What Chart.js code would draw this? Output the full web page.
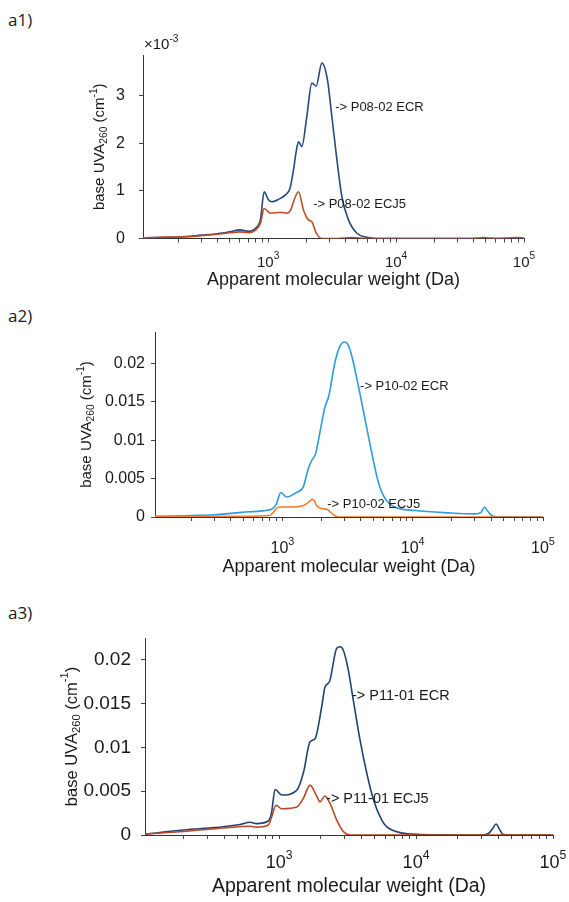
<!DOCTYPE html>
<html>
<head>
<meta charset="utf-8">
<script src="https://cdn.jsdelivr.net/npm/chart.js@4.4.1/dist/chart.umd.min.js"></script>
<style>
  body { margin: 0; background: #fff; width: 569px; height: 902px; position: relative; overflow: hidden; }
  canvas.panel { position: absolute; left: 0; }
  .tag { position: absolute; left: 8px; font: 17px "Open Sans", sans-serif; color: #1a1a1a; }
</style>
</head>
<body>
<div class="tag" style="top:8px">a1)</div>
<div class="tag" style="top:304px">a2)</div>
<div class="tag" style="top:601px">a3)</div>
<canvas id="c1" class="panel" width="569" height="300" style="top:0"></canvas>
<canvas id="c2" class="panel" width="569" height="300" style="top:300px"></canvas>
<canvas id="c3" class="panel" width="569" height="302" style="top:600px"></canvas>
<script>
// molecular weight (Da) / base UVA260 (cm-1) traces, one pair per sample
const mwP08Ecr  = [105, 150, 200, 300, 400, 500, 600, 700, 800, 870, 930, 1000, 1069, 1200, 1358, 1480, 1577, 1650, 1725, 1833, 2005, 2194, 2371, 2627, 2907, 3146, 3447, 3766, 4242, 4940, 5900, 7000, 20000, 100000];
const uvaP08Ecr = [0.00000, 0.00002, 0.00003, 0.00007, 0.00010, 0.00014, 0.00018, 0.00015, 0.00022, 0.00040, 0.00098, 0.00082, 0.00077, 0.00082, 0.00091, 0.00105, 0.00144, 0.00180, 0.00203, 0.00193, 0.00256, 0.00326, 0.00320, 0.00368, 0.00333, 0.00256, 0.00165, 0.00088, 0.00039, 0.00011, 0.000025, 0, 0, 0];
const mwP08Ecj5  = [105, 150, 200, 300, 400, 500, 600, 700, 800, 870, 930, 1036, 1240, 1400, 1500, 1577, 1725, 1887, 2063, 2194, 2371, 2627, 3500, 4500, 6000, 40000, 48000, 60000, 90000, 100000];
const uvaP08Ecj5 = [0.00001, 0.00003, 0.00003, 0.00006, 0.00009, 0.00012, 0.00014, 0.00012, 0.00018, 0.00032, 0.00063, 0.00053, 0.00055, 0.00053, 0.00060, 0.00077, 0.00098, 0.00060, 0.00039, 0.00035, 0.00012, 0, 0, 0.00002, 0, 0, 0.00002, 0, 0.00002, 0.00001];

const mwP10Ecr  = [105, 200, 300, 484, 700, 823, 899, 970, 1076, 1281, 1443, 1578, 1693, 1793, 1936, 2115, 2270, 2524, 2750, 2983, 3200, 3400, 3823, 4300, 4840, 5449, 6138, 7320, 10400, 18800, 30200, 33500, 35500, 37500, 40400, 45000, 100000];
const uvaP10Ecr = [0.00005, 0.0002, 0.0003, 0.0006, 0.0008, 0.0010, 0.0017, 0.0032, 0.0026, 0.0032, 0.0039, 0.0063, 0.0075, 0.0082, 0.0110, 0.01426, 0.0158, 0.0201, 0.0222, 0.0228, 0.0224, 0.0210, 0.0171, 0.01275, 0.0084, 0.0045, 0.0024, 0.00127, 0.00084, 0.00054, 0.00041, 0.0006, 0.00127, 0.0008, 0.0002, 0, 0];
const mwP10Ecj5  = [105, 500, 800, 848, 927, 1000, 1200, 1450, 1550, 1625, 1693, 1760, 1826, 1995, 2185, 2460, 2700, 100000];
const uvaP10Ecj5 = [0.0001, 0.0001, 0.0002, 0.0006, 0.00127, 0.0013, 0.0013, 0.0015, 0.0018, 0.0021, 0.0023, 0.0021, 0.0015, 0.0011, 0.0010, 0.0003, 0, 0];

const mwP11Ecr  = [105, 200, 392, 519, 614, 687, 835, 880, 935, 1046, 1346, 1505, 1684, 1831, 2049, 2165, 2332, 2636, 2786, 2946, 3201, 3480, 3900, 4370, 4894, 5620, 6100, 7650, 9500, 20000, 30000, 34000, 36500, 38400, 40500, 43000, 48000, 100000];
const uvaP11Ecr = [0.0001, 0.00057, 0.00095, 0.0012, 0.00145, 0.0013, 0.0016, 0.0025, 0.0052, 0.00457, 0.0051, 0.0071, 0.01066, 0.0110, 0.01466, 0.0169, 0.0175, 0.02134, 0.0215, 0.0211, 0.01886, 0.01543, 0.01086, 0.00705, 0.0040, 0.0017, 0.00095, 0.00027, 0.0001, 0, 0, 0.0002, 0.0008, 0.00126, 0.0007, 0.0001, 0, 0];
const mwP11Ecj5  = [105, 200, 392, 614, 687, 835, 880, 950, 1046, 1346, 1505, 1684, 1886, 1993, 2165, 2355, 2636, 2946, 3300, 100000];
const uvaP11Ecj5 = [0.0001, 0.0004, 0.0008, 0.0010, 0.0009, 0.00114, 0.0020, 0.0034, 0.0030, 0.0032, 0.0042, 0.0057, 0.0044, 0.0038, 0.00446, 0.0036, 0.0017, 0.0004, 0, 0];

const mwRange = [105, 100000];
const decadeTicks = [1000, 10000, 100000];

const pts = (xs, ys) => xs.map((x, i) => ({ x: x, y: ys[i] }));

// draws a run of text pieces, some of them raised or lowered
function richWidth(ctx, parts, size) {
  let w = 0;
  parts.forEach(p => {
    ctx.font = ((p.sup || p.sub) ? size * 0.68 : size) + 'px "Liberation Sans", Arial, sans-serif';
    w += ctx.measureText(p.t).width;
  });
  return w;
}
function drawRich(ctx, parts, x, y, size, align) {
  const w = richWidth(ctx, parts, size);
  let cx = align === 'center' ? x - w / 2 : x;
  ctx.textAlign = 'left';
  ctx.textBaseline = 'middle';
  parts.forEach(p => {
    const small = p.sup || p.sub;
    ctx.font = (small ? size * 0.68 : size) + 'px "Liberation Sans", Arial, sans-serif';
    let dy = 0;
    if (p.sup) dy = -size * 0.42;
    if (p.sub) dy = size * 0.3;
    ctx.fillText(p.t, cx, y + dy);
    cx += ctx.measureText(p.t).width;
  });
}

const yTitle = [{ t: 'base UVA' }, { t: '260', sub: true }, { t: ' (cm' }, { t: '-1', sup: true }, { t: ')' }];

const decor = {
  id: 'decor',
  afterDraw(chart, args, o) {
    const ctx = chart.ctx;
    const a = chart.chartArea;
    const xs = chart.scales.x;
    const ys = chart.scales.y;
    ctx.save();
    ctx.fillStyle = '#1a1a1a';

    decadeTicks.forEach(v => {
      const px = xs.getPixelForValue(v);
      drawRich(ctx, [{ t: '10' }, { t: String(Math.round(Math.log10(v))), sup: true }], px, a.bottom + o.xTickDy, o.xTickSize, 'center');
    });

    ctx.font = o.xTitleSize + 'px "Liberation Sans", Arial, sans-serif';
    ctx.textAlign = 'center';
    ctx.textBaseline = 'middle';
    ctx.fillText('Apparent molecular weight (Da)', (a.left + a.right) / 2, a.bottom + o.xTitleDy);

    ctx.save();
    ctx.translate(a.left - o.yTitleDx, (a.top + a.bottom) / 2);
    ctx.rotate(-Math.PI / 2);
    drawRich(ctx, yTitle, 0, 0, o.yTitleSize, 'center');
    ctx.restore();

    if (o.exponent) {
      drawRich(ctx, [{ t: '\u00d710' }, { t: o.exponent, sup: true }], a.left + 1, a.top - 10, 15, 'left');
    }

    ctx.font = o.noteSize + 'px "Liberation Sans", Arial, sans-serif';
    ctx.textAlign = 'left';
    ctx.textBaseline = 'middle';
    o.notes.forEach(n => {
      ctx.fillText(n.text, xs.getPixelForValue(n.at[0]), ys.getPixelForValue(n.at[1]));
    });
    ctx.restore();
  }
};

function makePanel(id, cfg) {
  const canvas = document.getElementById(id);
  const a = cfg.area;
  return new Chart(canvas, {
    type: 'line',
    data: {
      datasets: cfg.series.map(s => ({
        data: s.data,
        borderColor: s.color,
        borderWidth: 1.6,
        pointRadius: 0,
        fill: false,
        cubicInterpolationMode: 'monotone'
      }))
    },
    options: {
      responsive: false,
      animation: false,
      events: [],
      layout: { padding: { left: 0, right: canvas.width - a.right, top: a.top, bottom: 0 } },
      plugins: { legend: { display: false }, tooltip: { enabled: false }, decor: cfg.decor },
      scales: {
        x: {
          type: 'logarithmic',
          min: mwRange[0],
          max: mwRange[1],
          afterFit: s => { s.height = canvas.height - a.bottom; },
          afterBuildTicks: s => {
            // keep only whole multiples of each decade
            s.ticks = s.ticks.filter(t => {
              const r = t.value / Math.pow(10, Math.floor(Math.log10(t.value) + 1e-9));
              return Math.abs(r - Math.round(r)) < 1e-6;
            });
          },
          ticks: { callback: () => '', autoSkip: false, maxRotation: 0 },
          grid: { display: true, drawOnChartArea: false, drawTicks: true, tickLength: 4, tickColor: '#444', color: '#444' },
          border: { display: true, color: '#333', width: 1 }
        },
        y: {
          min: 0,
          max: cfg.yMax,
          afterFit: s => { s.width = a.left; },
          ticks: {
            stepSize: cfg.yStep,
            includeBounds: false,
            padding: cfg.yPad,
            color: '#1a1a1a',
            font: { family: '"Liberation Sans", Arial, sans-serif', size: cfg.yTickSize },
            callback: cfg.yFmt
          },
          grid: { display: true, drawOnChartArea: false, drawTicks: true, tickLength: 4, tickColor: '#444', color: '#444' },
          border: { display: true, color: '#333', width: 1 }
        }
      }
    },
    plugins: [decor]
  });
}

makePanel('c1', {
  area: { left: 143, right: 524, top: 55, bottom: 238.5 },
  yMax: 0.00385, yStep: 0.001, yPad: 14, yTickSize: 16,
  yFmt: v => String(Math.round(v * 1000)),
  series: [
    { data: pts(mwP08Ecj5, uvaP08Ecj5), color: '#c24a28' },
    { data: pts(mwP08Ecr, uvaP08Ecr), color: '#24497a' }
  ],
  decor: {
    exponent: '-3', xTickSize: 15, xTickDy: 24, xTitleSize: 18, xTitleDy: 42, yTitleSize: 15, yTitleDx: 43, noteSize: 13,
    notes: [{ text: '-> P08-02 ECR', at: [3340, 0.00275] }, { text: '-> P08-02 ECJ5', at: [2246, 0.000725] }]
  }
});

makePanel('c2', {
  area: { left: 155, right: 543, top: 32, bottom: 217 },
  yMax: 0.0241, yStep: 0.005, yPad: 6, yTickSize: 16,
  yFmt: v => String(Math.round(v * 1000) / 1000),
  series: [
    { data: pts(mwP10Ecj5, uvaP10Ecj5), color: '#f07c2c' },
    { data: pts(mwP10Ecr, uvaP10Ecr), color: '#2f9bdc' }
  ],
  decor: {
    exponent: null, xTickSize: 16, xTickDy: 32, xTitleSize: 18, xTitleDy: 50, yTitleSize: 15, yTitleDx: 68, noteSize: 13,
    notes: [{ text: '-> P10-02 ECR', at: [3940, 0.0170] }, { text: '-> P10-02 ECJ5', at: [2207, 0.00169] }]
  }
});

makePanel('c3', {
  area: { left: 145, right: 553, top: 38, bottom: 235 },
  yMax: 0.0225, yStep: 0.005, yPad: 10, yTickSize: 19,
  yFmt: v => String(Math.round(v * 1000) / 1000),
  series: [
    { data: pts(mwP11Ecj5, uvaP11Ecj5), color: '#b9482a' },
    { data: pts(mwP11Ecr, uvaP11Ecr), color: '#21436f' }
  ],
  decor: {
    exponent: null, xTickSize: 18, xTickDy: 28, xTitleSize: 19.5, xTitleDy: 52, yTitleSize: 16.5, yTitleDx: 73, noteSize: 14.5,
    notes: [{ text: '-> P11-01 ECR', at: [3409, 0.01589] }, { text: '-> P11-01 ECJ5', at: [2203, 0.00411] }]
  }
});
</script>
</body>
</html>
